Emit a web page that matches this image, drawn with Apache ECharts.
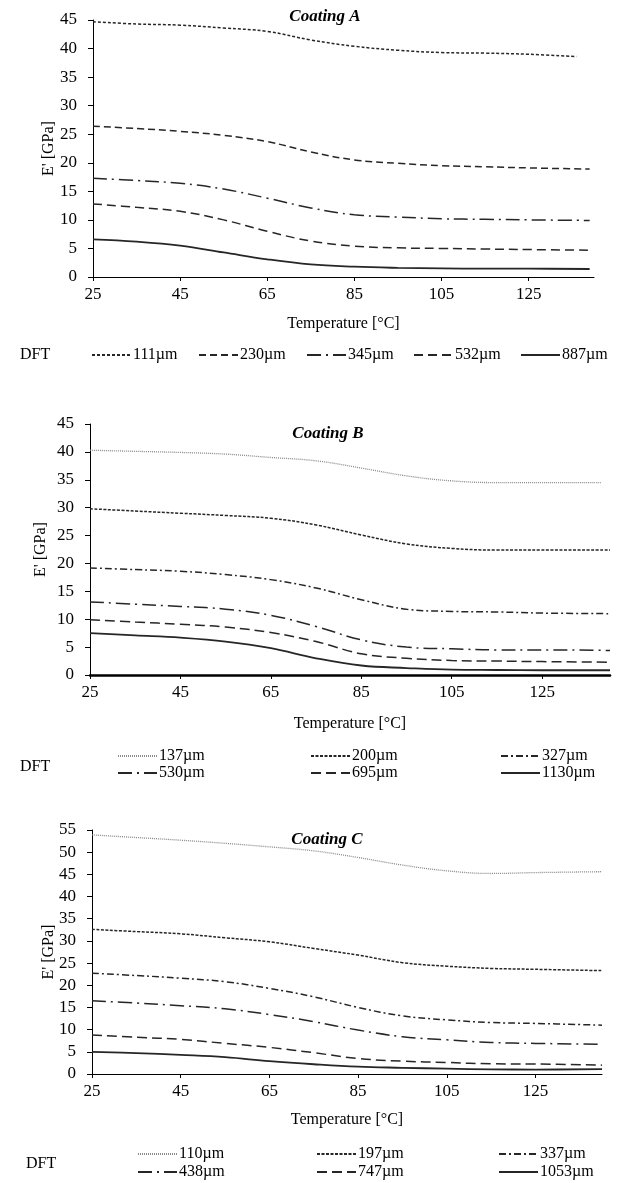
<!DOCTYPE html>
<html>
<head>
<meta charset="utf-8">
<script src="https://cdn.jsdelivr.net/npm/echarts@6/dist/echarts.min.js"></script>
<style>
html,body{margin:0;padding:0;background:#fff;}
#c{width:628px;height:1183px;}
</style>
</head>
<body>
<div id="c"></div>
<script>
// ---------- DATA ----------
var xTicks = [25, 45, 65, 85, 105, 125];

// Coating A
var tempsA = [25, 35, 45, 55, 65, 75, 85, 95, 105, 115, 125, 139];
var tempsA111 = [25, 35, 45, 55, 65, 75, 85, 95, 105, 115, 125, 136];
var namesA = ['111µm', '230µm', '345µm', '532µm', '887µm'];
var a111 = [44.7, 44.3, 44.1, 43.6, 43.0, 41.5, 40.4, 39.7, 39.3, 39.2, 39.0, 38.6];
var a230 = [26.4, 26.0, 25.5, 24.8, 23.7, 21.9, 20.5, 19.9, 19.5, 19.3, 19.1, 18.9];
var a345 = [17.3, 16.9, 16.4, 15.4, 13.8, 12.1, 10.9, 10.5, 10.2, 10.1, 10.0, 9.9];
var a532 = [12.8, 12.2, 11.5, 10.0, 8.0, 6.3, 5.4, 5.1, 5.0, 4.9, 4.8, 4.7];
var a887 = [6.6, 6.2, 5.5, 4.3, 3.1, 2.2, 1.8, 1.6, 1.5, 1.45, 1.45, 1.4];

// Coating B
var tempsB = [25, 35, 45, 55, 65, 75, 85, 95, 105, 115, 125, 140];
var tempsB137 = [25, 35, 45, 55, 65, 75, 85, 95, 105, 115, 125, 138];
var namesB = ['137µm', '200µm', '327µm', '530µm', '695µm', '1130µm'];
var b137 = [40.3, 40.1, 39.9, 39.6, 39.0, 38.4, 37.1, 35.7, 34.8, 34.5, 34.5, 34.5];
var b200 = [29.8, 29.4, 29.0, 28.6, 28.1, 26.9, 25.1, 23.5, 22.7, 22.4, 22.4, 22.4];
var b327 = [19.2, 18.9, 18.6, 18.0, 17.1, 15.6, 13.5, 11.8, 11.4, 11.3, 11.1, 11.0];
var b530 = [13.1, 12.7, 12.3, 11.8, 10.7, 8.7, 6.3, 5.0, 4.7, 4.5, 4.5, 4.4];
var b695 = [9.9, 9.5, 9.1, 8.6, 7.6, 6.0, 3.8, 3.0, 2.6, 2.5, 2.4, 2.3];
var b1130 = [7.5, 7.1, 6.7, 6.0, 4.8, 3.0, 1.7, 1.25, 0.95, 0.9, 0.85, 0.85];

// Coating C
var tempsC = [25, 35, 45, 55, 65, 75, 85, 95, 105, 115, 125, 140];
var namesC = ['110µm', '197µm', '337µm', '438µm', '747µm', '1053µm'];
var c110 = [53.9, 53.3, 52.7, 52.0, 51.2, 50.3, 48.8, 47.1, 45.8, 45.2, 45.4, 45.6];
var c197 = [32.6, 32.1, 31.6, 30.7, 29.8, 28.3, 26.8, 25.1, 24.3, 23.8, 23.6, 23.3];
var c337 = [22.7, 22.2, 21.6, 20.8, 19.3, 17.4, 15.0, 13.1, 12.2, 11.6, 11.4, 11.0];
var c438 = [16.5, 16.0, 15.4, 14.7, 13.4, 11.8, 9.9, 8.4, 7.7, 7.1, 6.9, 6.7];
var c747 = [8.8, 8.3, 7.8, 6.9, 6.0, 4.8, 3.5, 2.9, 2.6, 2.3, 2.25, 2.0];
var c1053 = [5.0, 4.7, 4.3, 3.8, 2.9, 2.2, 1.65, 1.4, 1.2, 1.05, 1.0, 1.1];

// ---------- STYLE / BUILD ----------
var FONT = '"Liberation Serif", "Times New Roman", serif';
var DARK = '#262626';
var LIGHT = '#8a8a8a';

function pairs(t, v) { return t.map(function (x, i) { return [x, v[i]]; }); }
function line(name, t, v, g, dash, color, width) {
  return {
    type: 'line', name: name, xAxisIndex: g, yAxisIndex: g,
    data: pairs(t, v), smooth: 0.4, symbol: 'none', showSymbol: false,
    lineStyle: { color: color || DARK, width: width || 1.5, type: dash, cap: 'butt' },
    itemStyle: { color: color || DARK },
    emphasis: { disabled: true }, silent: true, animation: false
  };
}

var grids = [
  { left: 93, top: 20, width: 501, height: 257 },
  { left: 90, top: 424, width: 520, height: 251 },
  { left: 92, top: 830, width: 510, height: 244 }
];
var yMax = [45, 45, 55];
var yNameGap = [36, 41, 35];
var xNameGap = [39, 41, 38];
var xLineW = [1, 2.5, 1];

var xAxes = [], yAxes = [];
for (var g = 0; g < 3; g++) {
  xAxes.push({
    type: 'value', gridIndex: g, min: 25, max: 140, interval: 20,
    axisLine: { onZero: false, lineStyle: { color: '#000', width: xLineW[g] } },
    axisTick: { show: true, length: 4, customValues: xTicks, lineStyle: { color: '#000' } },
    axisLabel: { customValues: xTicks, fontFamily: FONT, fontSize: 17, color: '#000', margin: 9 },
    splitLine: { show: false },
    name: 'Temperature [°C]', nameLocation: 'middle', nameGap: xNameGap[g],
    nameTextStyle: { fontFamily: FONT, fontSize: 16, color: '#000' }
  });
  yAxes.push({
    type: 'value', gridIndex: g, min: 0, max: yMax[g], interval: 5,
    axisLine: { show: true, lineStyle: { color: '#000', width: 1 } },
    axisTick: { show: true, length: 5, lineStyle: { color: '#000' } },
    axisLabel: { fontFamily: FONT, fontSize: 17, color: '#000', margin: 16 },
    splitLine: { show: false },
    name: "E' [GPa]", nameLocation: 'middle', nameGap: yNameGap[g], nameMoveOverlap: false,
    nameTextStyle: { fontFamily: FONT, fontSize: 16, color: '#000' }
  });
}

var series = [
  line(namesA[0], tempsA111, a111, 0, [3, 2]),
  line(namesA[1], tempsA, a230, 0, [7, 4]),
  line(namesA[2], tempsA, a345, 0, [14, 5, 2, 5]),
  line(namesA[3], tempsA, a532, 0, [9, 5]),
  line(namesA[4], tempsA, a887, 0, 'solid', DARK, 1.8),

  line(namesB[0], tempsB137, b137, 1, [1, 1], LIGHT, 1.3),
  line(namesB[1], tempsB, b200, 1, [3, 1.5]),
  line(namesB[2], tempsB, b327, 1, [7, 3, 2, 3]),
  line(namesB[3], tempsB, b530, 1, [14, 5, 2, 5]),
  line(namesB[4], tempsB, b695, 1, [10, 5]),
  line(namesB[5], tempsB, b1130, 1, 'solid', DARK, 1.8),

  line(namesC[0], tempsC, c110, 2, [1, 1], LIGHT, 1.3),
  line(namesC[1], tempsC, c197, 2, [3, 1.5]),
  line(namesC[2], tempsC, c337, 2, [7, 3, 2, 3]),
  line(namesC[3], tempsC, c438, 2, [14, 5, 2, 5]),
  line(namesC[4], tempsC, c747, 2, [10, 5]),
  line(namesC[5], tempsC, c1053, 2, 'solid', DARK, 1.8)
];

function leg(name, left, yc) {
  return {
    data: [name], left: left, top: yc - 9, padding: 0,
    itemWidth: 39, itemHeight: 10, itemGap: 0, selectedMode: false,
    itemStyle: { opacity: 0 },
    textStyle: { fontFamily: FONT, fontSize: 16, color: '#000', padding: [0, 0, 0, -3] }
  };
}
var legends = [];
var posA = [91, 198, 306, 413, 520];
namesA.forEach(function (n, i) { legends.push(leg(n, posA[i], 356)); });
var colB = [117, 310, 500], rowB = [757, 774];
namesB.forEach(function (n, i) { legends.push(leg(n, colB[i % 3], rowB[Math.floor(i / 3)])); });
var colC = [137, 316, 498], rowC = [1155, 1173];
namesC.forEach(function (n, i) { legends.push(leg(n, colC[i % 3], rowC[Math.floor(i / 3)])); });

var titles = [
  { text: 'Coating A', left: 325, top: 8 },
  { text: 'Coating B', left: 328, top: 425 },
  { text: 'Coating C', left: 327, top: 831 }
].map(function (t) {
  t.textAlign = 'center';
  t.padding = 0;
  t.textStyle = { fontFamily: FONT, fontSize: 17, fontWeight: 'bold', fontStyle: 'italic', color: '#000' };
  return t;
});

var dft = [[20, 356], [20, 768], [26, 1165]].map(function (p) {
  return {
    type: 'text', left: p[0], top: p[1] - 9,
    style: { text: 'DFT', font: '16px ' + FONT, fill: '#000' }
  };
});

var chart = echarts.init(document.getElementById('c'), null, { renderer: 'canvas' });
chart.setOption({
  animation: false,
  backgroundColor: '#fff',
  title: titles,
  grid: grids,
  xAxis: xAxes,
  yAxis: yAxes,
  legend: legends,
  graphic: dft,
  series: series
});
</script>
</body>
</html>
